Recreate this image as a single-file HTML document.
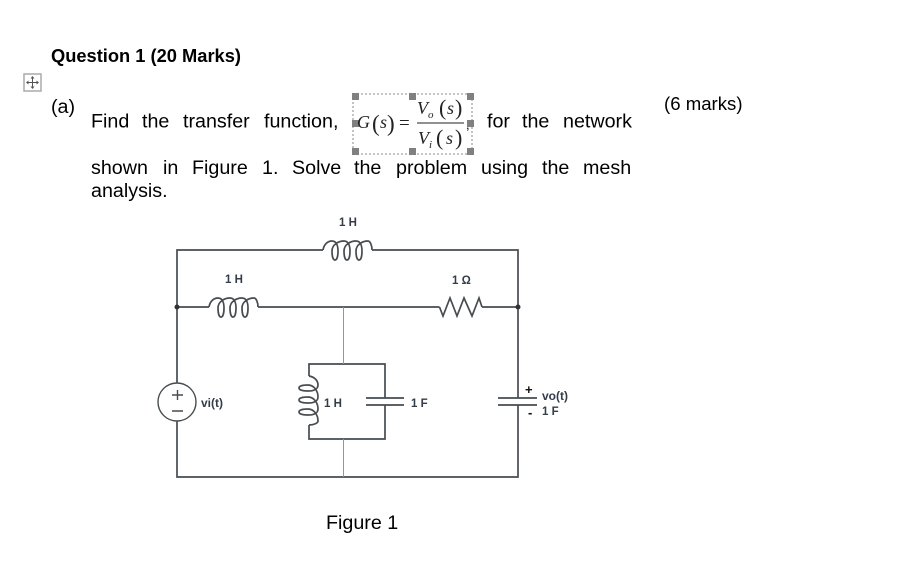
<!DOCTYPE html>
<html><head><meta charset="utf-8"><style>
html,body{margin:0;padding:0;background:#fff;width:898px;height:561px;overflow:hidden}
svg{display:block}
text{font-family:"Liberation Sans",sans-serif;fill:#000}
.b{font-size:19.7px}
.c{font-size:11.5px;font-weight:bold;fill:#333c48}
.m{font-family:"Liberation Serif",serif;font-style:italic;fill:#222}
.p{font-family:"Liberation Serif",serif;fill:#222}
</style></head><body>
<svg width="898" height="561" viewBox="0 0 898 561" xmlns="http://www.w3.org/2000/svg">
<text x="51" y="62" font-size="18.3" font-weight="bold">Question 1 (20 Marks)</text>
<rect x="24" y="74" width="17" height="17" fill="#fff" stroke="#aaa" stroke-width="1.500"/>
<path d="M32.500 77v11M27 82.500h11" stroke="#555" stroke-width="1"/>
<path d="M32.500 76l-2 2.500h4zM32.500 89l-2-2.500h4zM26 82.500l2.500-2v4zM39 82.500l-2.500-2v4z" fill="#555"/>
<text x="51" y="113" class="b">(a)</text>
<text x="664" y="110" font-size="18.600">(6 marks)</text>
<text x="91" y="127.500" class="b">Find</text><text x="142" y="127.500" class="b">the</text><text x="183" y="127.500" class="b">transfer</text><text x="264" y="127.500" class="b">function,</text>
<text x="487" y="127.500" class="b">for</text><text x="522" y="127.500" class="b">the</text><text x="563" y="127.500" class="b">network</text>
<text x="91" y="174" class="b">shown</text><text x="163" y="174" class="b">in</text><text x="192" y="174" class="b">Figure</text><text x="262" y="174" class="b">1.</text><text x="292" y="174" class="b">Solve</text><text x="354" y="174" class="b">the</text><text x="396" y="174" class="b">problem</text><text x="481" y="174" class="b">using</text><text x="542" y="174" class="b">the</text><text x="583" y="174" class="b">mesh</text>
<text x="91" y="197" class="b">analysis.</text>

<rect x="353" y="94" width="119" height="60" fill="none" stroke="#888" stroke-width="1" stroke-dasharray="2 2"/>
<g fill="#808080"><rect x="352" y="93" width="7" height="7"/><rect x="409" y="93" width="7" height="7"/><rect x="467" y="93" width="7" height="7"/><rect x="352" y="120" width="7" height="7"/><rect x="467" y="120" width="7" height="7"/><rect x="352" y="148" width="7" height="7"/><rect x="409" y="148" width="7" height="7"/><rect x="467" y="148" width="7" height="7"/></g>
<text class="m" x="357" y="128" font-size="18">G</text>
<text class="p" x="372" y="131" font-size="23">(</text>
<text class="m" x="380" y="128" font-size="18">s</text>
<text class="p" x="387" y="131" font-size="23">)</text>
<text class="p" x="399" y="129" font-size="19">=</text>
<line x1="417" y1="123" x2="464" y2="123" stroke="#222" stroke-width="1"/>
<text class="m" x="417" y="114" font-size="18">V</text><text class="m" x="428" y="118" font-size="11">o</text>
<text class="p" x="439" y="115" font-size="22">(</text><text class="m" x="447" y="114" font-size="18">s</text><text class="p" x="455" y="115" font-size="22">)</text>
<text class="m" x="418" y="144" font-size="18">V</text><text class="m" x="429" y="148" font-size="11">i</text>
<text class="p" x="436" y="145" font-size="22">(</text><text class="m" x="446" y="144" font-size="18">s</text><text class="p" x="455" y="145" font-size="22">)</text>
<text x="466" y="129" font-size="13" fill="#555">,</text>

<g fill="none" stroke="#464c50" stroke-width="1.700">
<path d="M177 307V383M177 421V477H518V405M518 398V250H372M323 250H177V307"/>
<path d="M177 307H209M258 307H439.500M482 307H518"/>
<path d="M209 307c1-6 5-9 9-9c4 0 6 4 6 10c0 5-1 9-3 9c-2 0-3-4-3-9c0-6 6-10 12-10c4 0 6 4 6 10c0 5-1 9-3 9c-2 0-3-4-3-9c0-6 6-10 12-10c4 0 6 4 6 10c0 5-1 9-3 9c-2 0-3-4-3-9c0-6 6-10 12-10c2 0 4 4 4 9"/>
<path d="M323 250c1-6 5-9 9-9c4 0 6 4 6 10c0 5-1 9-3 9c-2 0-3-4-3-9c0-6 6-10 12-10c4 0 6 4 6 10c0 5-1 9-3 9c-2 0-3-4-3-9c0-6 6-10 12-10c4 0 6 4 6 10c0 5-1 9-3 9c-2 0-3-4-3-9c0-6 6-10 12-10c2 0 4 4 4 9"/>
<path d="M439.500 307L443 316L450 298L457 316L464 298L472 316L479 298L482 307"/>
<path d="M385 398V364H309V376M309 425V439H385V405"/>
<path d="M309 376c6 1 9 5 9 9c0 4-4 6-10 6c-5 0-9-1-9-3c0-2 4-3 9-3c6 0 10 6 10 12c0 4-4 6-10 6c-5 0-9-1-9-3c0-2 4-3 9-3c6 0 10 6 10 12c0 4-4 6-10 6c-5 0-9-1-9-3c0-2 4-3 9-3c6 0 10 6 10 12c0 2-4 4-9 4"/>
<path d="M366 398H404M366 405H404M498 398H537M498 405H537"/>
<circle cx="177" cy="402" r="19" stroke-width="1.400"/>
<path d="M172 395H183M177.500 390V400M172 411H183" stroke-width="1.400"/>
</g>
<line x1="343.500" y1="307" x2="343.500" y2="364" stroke="#7a9acb" stroke-width="1"/>
<line x1="343.500" y1="439" x2="343.500" y2="477" stroke="#7a9acb" stroke-width="1"/>
<circle cx="177" cy="307" r="2.500" fill="#333"/><circle cx="518" cy="307" r="2.500" fill="#333"/>
<text class="c" x="225" y="283">1 H</text>
<text class="c" x="339" y="226">1 H</text>
<text class="c" x="452" y="284">1 Ω</text>
<text class="c" x="201" y="407" style="font-size:12px">vi(t)</text>
<text class="c" x="324" y="407">1 H</text>
<text class="c" x="411" y="407">1 F</text>
<text class="c" x="542" y="400" style="font-size:12px">vo(t)</text>
<text class="c" x="542" y="415">1 F</text>
<text class="c" x="525" y="394" style="font-size:13px;fill:#111">+</text>
<text class="c" x="528" y="417" style="font-size:13px;fill:#111">-</text>
<text x="326" y="529" class="b">Figure 1</text>
</svg>
</body></html>
